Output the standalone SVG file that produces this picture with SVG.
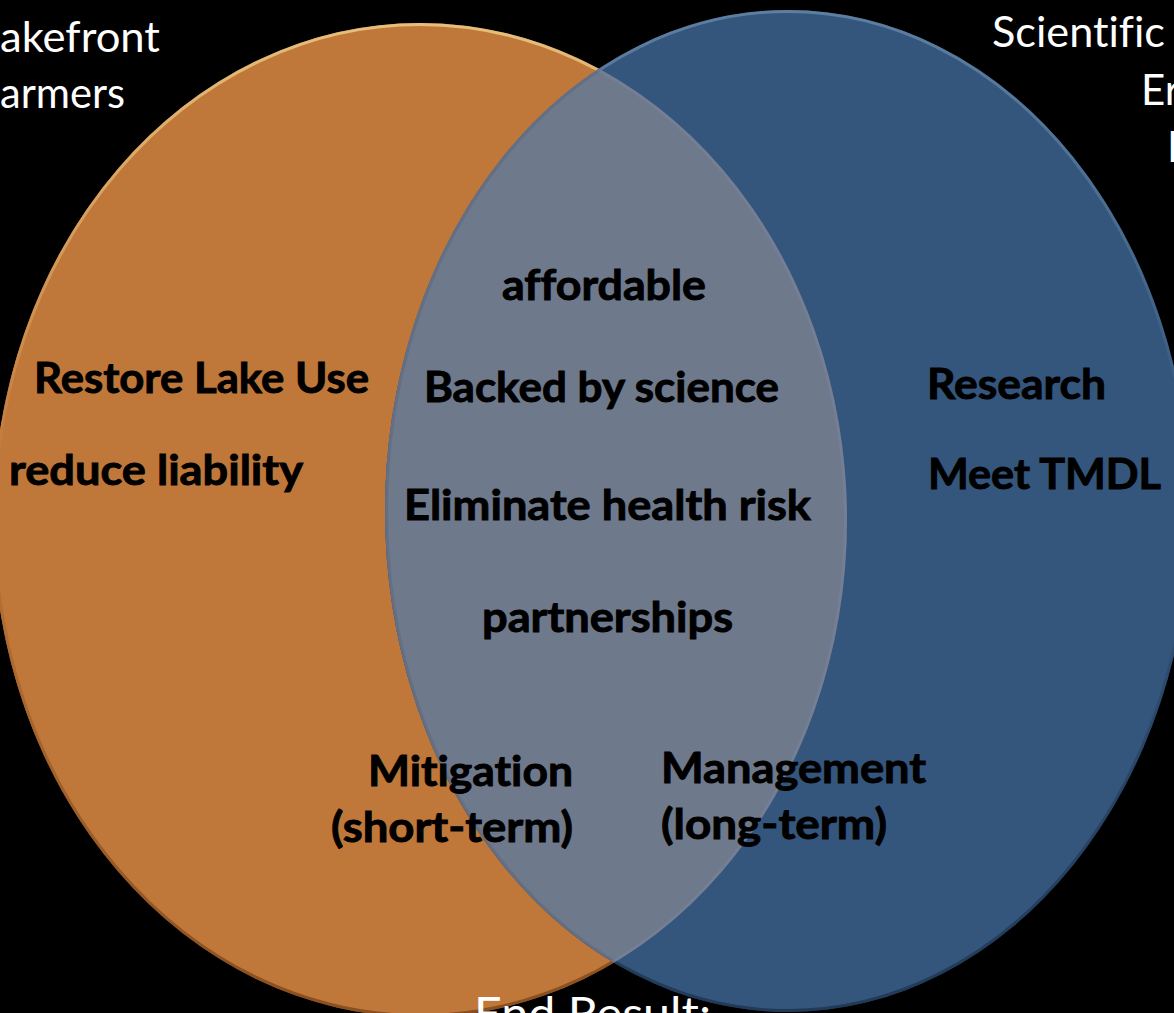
<svg xmlns="http://www.w3.org/2000/svg" width="1174" height="1013" viewBox="0 0 1174 1013">
<defs>
<style>
.lbl{font-family:Lato,"Open Sans","Liberation Sans",sans-serif;font-weight:bold;font-size:42px;fill:#000;stroke:#000;stroke-width:0.9px;font-variant-ligatures:none}
.hdr{font-family:Lato,"Open Sans","Liberation Sans",sans-serif;font-weight:normal;font-size:42px;fill:#fff;font-variant-ligatures:none}
.rim{fill:none;stroke-width:3}
</style>
<linearGradient id="rimO" x1="0" y1="0" x2="0" y2="1">
<stop offset="0" stop-color="#f0d08a"/>
<stop offset="0.45" stop-color="#c0783a"/>
<stop offset="1" stop-color="#7a4418"/>
</linearGradient>
<linearGradient id="rimB" x1="0" y1="0" x2="0" y2="1">
<stop offset="0" stop-color="#6f90b2"/>
<stop offset="0.45" stop-color="#34567c"/>
<stop offset="1" stop-color="#1a2e48"/>
</linearGradient>
<clipPath id="clipO"><ellipse cx="420" cy="520" rx="427" ry="497"/></clipPath>
<clipPath id="clipB"><ellipse cx="788" cy="511" rx="403" ry="501"/></clipPath>
</defs>
<rect x="0" y="0" width="1174" height="1013" fill="#000"/>
<g id="set-lakefront">
<ellipse cx="420" cy="520" rx="427" ry="497" fill="#c0783a"/>
<ellipse class="rim" cx="420" cy="520" rx="425.5" ry="495.5" stroke="url(#rimO)" opacity="0.8"/>
</g>
<g id="set-scientific">
<ellipse cx="788" cy="511" rx="403" ry="501" fill="#34567c"/>
<ellipse class="rim" cx="788" cy="511" rx="401.5" ry="499.5" stroke="url(#rimB)" opacity="0.7"/>
</g>
<g id="overlap">
<ellipse cx="788" cy="511" rx="403" ry="501" fill="#6e798c" clip-path="url(#clipO)"/>
<ellipse class="rim" cx="788" cy="511" rx="401.5" ry="499.5" stroke="#5a657c" opacity="0.5" clip-path="url(#clipO)"/>
<ellipse class="rim" cx="420" cy="520" rx="425.5" ry="495.5" stroke="#7d88a0" opacity="0.4" clip-path="url(#clipB)"/>
</g>
<g id="title-lakefront">
<text class="hdr" x="0" y="52" textLength="160" lengthAdjust="spacingAndGlyphs">akefront</text>
<text class="hdr" x="0" y="108" textLength="125" lengthAdjust="spacingAndGlyphs">armers</text>
</g>
<g id="title-scientific">
<text class="hdr" x="992" y="47" textLength="173" lengthAdjust="spacingAndGlyphs">Scientific</text>
<text class="hdr" x="1141" y="105">Er</text>
<text class="hdr" x="1167" y="162">I</text>
</g>
<g id="labels-lakefront">
<text class="lbl" x="34" y="393" textLength="335" lengthAdjust="spacingAndGlyphs">Restore Lake Use</text>
<text class="lbl" x="9" y="485" textLength="294" lengthAdjust="spacingAndGlyphs">reduce liability</text>
</g>
<g id="labels-shared">
<text class="lbl" x="502" y="300" textLength="204" lengthAdjust="spacingAndGlyphs">affordable</text>
<text class="lbl" x="424" y="402" textLength="355" lengthAdjust="spacingAndGlyphs">Backed by science</text>
<text class="lbl" x="404" y="520" textLength="407" lengthAdjust="spacingAndGlyphs">Eliminate health risk</text>
<text class="lbl" x="482" y="632" textLength="251" lengthAdjust="spacingAndGlyphs">partnerships</text>
</g>
<g id="labels-scientific">
<text class="lbl" x="927" y="399" textLength="179" lengthAdjust="spacingAndGlyphs">Research</text>
<text class="lbl" x="928" y="489" textLength="233" lengthAdjust="spacingAndGlyphs">Meet TMDL</text>
</g>
<g id="label-mitigation">
<text class="lbl" x="368" y="786" textLength="205" lengthAdjust="spacingAndGlyphs">Mitigation</text>
<text class="lbl" x="331" y="842" textLength="242" lengthAdjust="spacingAndGlyphs">(short-term)</text>
</g>
<g id="label-management">
<text class="lbl" x="661" y="783" textLength="265" lengthAdjust="spacingAndGlyphs">Management</text>
<text class="lbl" x="661" y="839" textLength="226" lengthAdjust="spacingAndGlyphs">(long-term)</text>
</g>
<g id="end-result">
<text class="hdr" x="474" y="1030" style="font-size:46.5px" textLength="237" lengthAdjust="spacingAndGlyphs">End Result:</text>
</g>
</svg>
